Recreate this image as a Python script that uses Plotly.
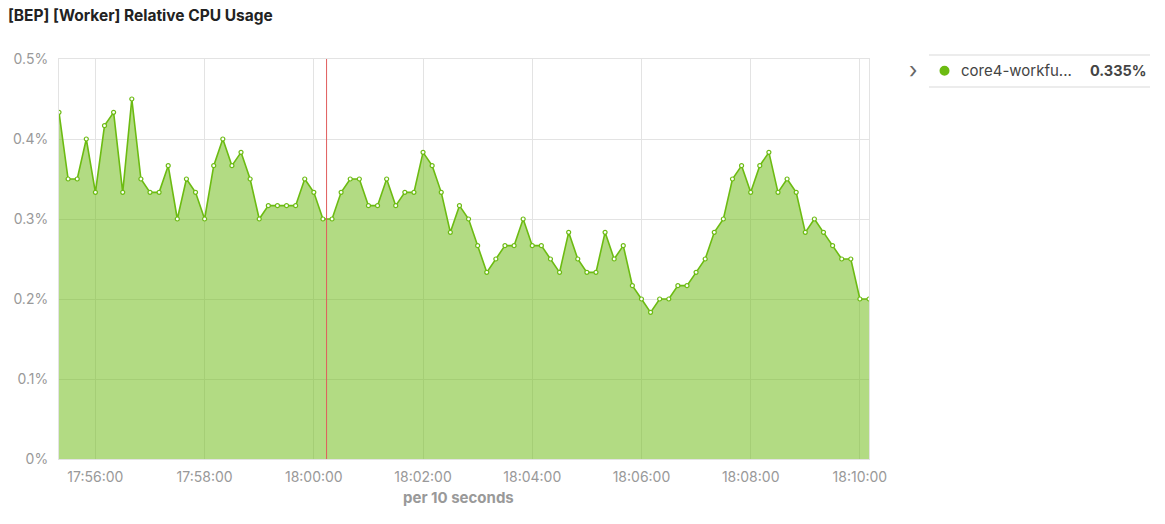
import pandas as pd
import plotly.graph_objects as go

# CPU usage samples (percent), one every 10 seconds
start_time = "2024-01-01 17:55:20"
cpu_pct = [
    0.4333, 0.35, 0.35, 0.4, 0.3333, 0.4167, 0.4333, 0.3333, 0.45, 0.35,
    0.3333, 0.3333, 0.3667, 0.3, 0.35, 0.3333, 0.3, 0.3667, 0.4, 0.3667,
    0.3833, 0.35, 0.3, 0.3167, 0.3167, 0.3167, 0.3167, 0.35, 0.3333, 0.3,
    0.3, 0.3333, 0.35, 0.35, 0.3167, 0.3167, 0.35, 0.3167, 0.3333, 0.3333,
    0.3833, 0.3667, 0.3333, 0.2833, 0.3167, 0.3, 0.2667, 0.2333, 0.25, 0.2667,
    0.2667, 0.3, 0.2667, 0.2667, 0.25, 0.2333, 0.2833, 0.25, 0.2333, 0.2333,
    0.2833, 0.25, 0.2667, 0.2167, 0.2, 0.1833, 0.2, 0.2, 0.2167, 0.2167,
    0.2333, 0.25, 0.2833, 0.3, 0.35, 0.3667, 0.3333, 0.3667, 0.3833, 0.3333,
    0.35, 0.3333, 0.2833, 0.3, 0.2833, 0.2667, 0.25, 0.25, 0.2, 0.2,
]
series_name = "core4-workfu..."
legend_value = "0.335%"
cursor_time = "2024-01-01 18:00:14"

times = pd.date_range(start_time, periods=len(cpu_pct), freq="10s")

W, H = 1165, 524
L, R, T, B = 59, 296, 59, 65
green = "#6cbb12"
gray_txt = "#999999"
grid = "#e3e3e3"


# pixel -> paper helpers for things drawn outside the plot area
def px(x):
    return (x - L) / (W - L - R)


def py(y):
    return (H - B - y) / (H - T - B)


fig = go.Figure()
fig.add_trace(go.Scatter(
    x=times, y=cpu_pct, mode="lines+markers",
    line=dict(color=green, width=1.6),
    marker=dict(symbol="circle", size=4, color="#ffffff",
                line=dict(color=green, width=1.2)),
    fill="tozeroy", fillcolor="rgba(115,190,30,0.55)",
    showlegend=False, hoverinfo="skip",
))

# cursor line
fig.add_shape(type="line", xref="x", yref="paper", x0=cursor_time, x1=cursor_time,
              y0=0, y1=1, line=dict(color="#e05c5c", width=1))

# legend box drawn by hand
fig.add_shape(type="line", xref="paper", yref="paper", x0=px(929), x1=px(1150),
              y0=py(55), y1=py(55), line=dict(color="#d9d9d9", width=1))
fig.add_shape(type="line", xref="paper", yref="paper", x0=px(929), x1=px(1150),
              y0=py(87), y1=py(87), line=dict(color="#d9d9d9", width=1))
fig.add_shape(type="circle", xref="paper", yref="paper", xsizemode="pixel", ysizemode="pixel",
              xanchor=px(944.5), yanchor=py(70.7), x0=-5, x1=5, y0=-5, y1=5,
              fillcolor=green, line=dict(width=0))
fig.add_annotation(xref="paper", yref="paper", x=px(913), y=py(70), text="\u203a",
                   showarrow=False, font=dict(size=22, color="#666666"),
                   xanchor="center", yanchor="middle")
fig.add_annotation(xref="paper", yref="paper", x=px(959), y=py(70.7), text=series_name,
                   showarrow=False, font=dict(size=15, color="#444444"),
                   xanchor="left", yanchor="middle")
fig.add_annotation(xref="paper", yref="paper", x=px(1149), y=py(70.7),
                   text="<b>" + legend_value + "</b>",
                   showarrow=False, font=dict(size=14.5, color="#444444"),
                   xanchor="right", yanchor="middle")
fig.add_annotation(xref="paper", yref="paper", x=px(458), y=py(497),
                   text="<b>per 10 seconds</b>", showarrow=False,
                   font=dict(size=15, color=gray_txt), xanchor="center", yanchor="middle")

fig.update_layout(
    width=W, height=H,
    margin=dict(l=L, r=R, t=T, b=B),
    paper_bgcolor="white", plot_bgcolor="white",
    font=dict(family="Inter, Noto Sans, sans-serif", color=gray_txt),
    title=dict(text="<b>[BEP] [Worker] Relative CPU Usage</b>", x=8 / W, xanchor="left",
               y=1 - 16 / H, yanchor="middle", font=dict(size=15.5, color="#222222")),
)
fig.update_xaxes(
    type="date", range=[times[0], times[-1]], automargin=False,
    tick0="2024-01-01 17:56:00", dtick=120000, tickformat="%H:%M:%S",
    showgrid=True, gridcolor=grid, showline=True, linecolor=grid, mirror=True,
    zeroline=False, ticks="", ticklabelstandoff=5,
    tickfont=dict(size=14, color=gray_txt),
)
fig.update_yaxes(
    range=[0, 0.5], dtick=0.1, ticksuffix="%", automargin=False,
    showgrid=True, gridcolor=grid, showline=True, linecolor=grid, mirror=True,
    zeroline=False, ticks="", ticklabelstandoff=7,
    tickfont=dict(size=14, color=gray_txt),
)

# the page gets a default 8px body margin; drop it so pixels line up with the window
fig.write_html("out.html", config={"displayModeBar": False},
               post_script="document.body.style.margin = '0';")
